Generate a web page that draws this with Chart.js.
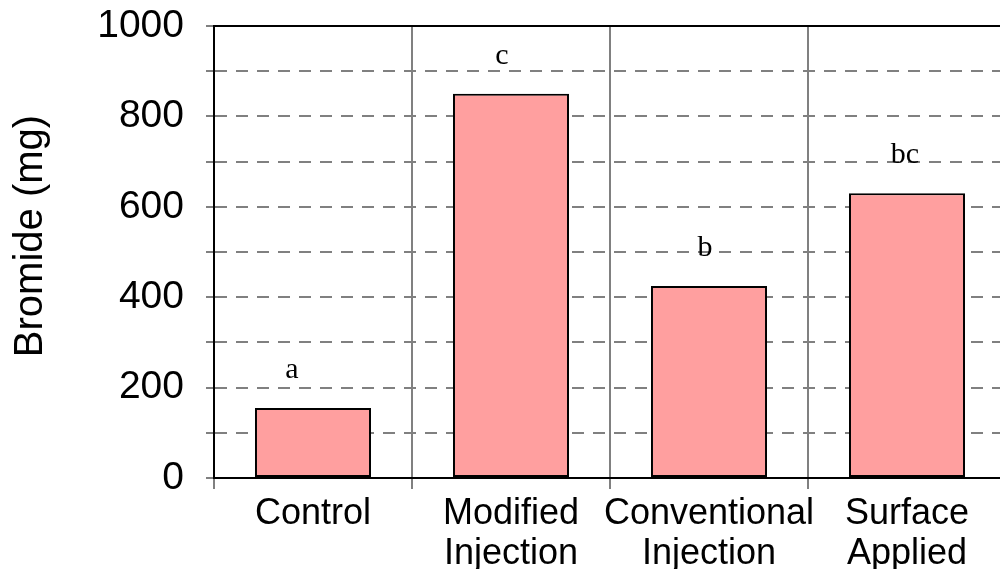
<!DOCTYPE html>
<html>
<head>
<meta charset="utf-8">
<script src="https://cdn.jsdelivr.net/npm/chart.js@4.4.1/dist/chart.umd.min.js"></script>
<style>
  html, body { margin: 0; padding: 0; background: #ffffff; overflow: hidden; }
  #wrap { width: 1000px; height: 569px; overflow: hidden; }
  canvas { display: block; }
</style>
</head>
<body>
<div id="wrap"><canvas id="chart" width="1008" height="569"></canvas></div>
<script>
// Treatment groups (multi-line axis labels)
const categories = [
  ['Control'],
  ['Modified', 'Injection'],
  ['Conventional', 'Injection'],
  ['Surface', 'Applied']
];

// Bromide recovered per treatment (mg)
const bromideValues = [155, 850, 425, 630];

// Significance letters shown above each bar
const sigLetters = ['a', 'c', 'b', 'bc'];

// Y axis range and labelled ticks
const yMin = 0;
const yMax = 1000;
const yStep = 100;
const yLabelStep = 200;

const yTitle = 'Bromide (mg)';

const GRID_GREY = '#808080';
const SANS = '"Liberation Sans", Arial, Helvetica, sans-serif';
const SERIF = '"Liberation Serif", "Times New Roman", serif';

// horizontal nudge of each significance letter relative to its bar centre (px)
const LETTER_NUDGE = [-21, -9, -4, -2];

// Letters above bars, top frame line and rotated y title
const annotations = {
  id: 'annotations',
  afterDatasetsDraw(chart) {
    const ctx = chart.ctx;
    const area = chart.chartArea;
    const meta = chart.getDatasetMeta(0);

    ctx.save();
    ctx.fillStyle = '#000000';
    ctx.font = '30px ' + SERIF;
    ctx.textAlign = 'center';
    ctx.textBaseline = 'alphabetic';
    meta.data.forEach((bar, i) => {
      ctx.fillText(sigLetters[i], bar.x + LETTER_NUDGE[i], bar.y - 30);
    });
    ctx.restore();

    // top frame line
    ctx.save();
    ctx.strokeStyle = '#000000';
    ctx.lineWidth = 2;
    ctx.beginPath();
    ctx.moveTo(area.left, area.top);
    ctx.lineTo(area.right, area.top);
    ctx.stroke();
    ctx.restore();

    // y axis title
    ctx.save();
    ctx.fillStyle = '#000000';
    ctx.font = '40px ' + SANS;
    ctx.textAlign = 'center';
    ctx.textBaseline = 'alphabetic';
    ctx.translate(42, (area.top + area.bottom) / 2 - 16);
    ctx.rotate(-Math.PI / 2);
    ctx.fillText(yTitle, 0, 0);
    ctx.restore();
  }
};

new Chart(document.getElementById('chart'), {
  type: 'bar',
  data: {
    labels: categories,
    datasets: [{
      data: bromideValues,
      backgroundColor: '#FF9F9F',
      borderColor: '#000000',
      borderWidth: 2,
      borderSkipped: false,
      barPercentage: 0.586,
      categoryPercentage: 1.0
    }]
  },
  options: {
    responsive: false,
    animation: false,
    devicePixelRatio: 1,
    layout: { padding: { top: 26, right: 2, left: 0, bottom: 0 } },
    plugins: {
      legend: { display: false },
      tooltip: { enabled: false },
      title: { display: false }
    },
    scales: {
      x: {
        offset: true,
        afterFit(scale) {
          scale.height = 91;
          scale.paddingLeft = 0;
          scale.paddingRight = 0;
        },
        grid: {
          offset: true,
          color: GRID_GREY,
          lineWidth: 2,
          drawTicks: true,
          tickLength: 11,
          z: -1
        },
        border: { display: true, color: '#000000', width: 2 },
        ticks: {
          color: '#000000',
          font: { family: SANS, size: 36, lineHeight: 1.12 },
          padding: 5,
          maxRotation: 0,
          autoSkip: false
        }
      },
      y: {
        min: yMin,
        max: yMax,
        afterFit(scale) {
          scale.width = 214;
          scale.paddingTop = 0;
          scale.paddingBottom = 0;
        },
        grid: {
          color: GRID_GREY,
          lineWidth: 2,
          drawTicks: true,
          tickLength: 8,
          z: -1
        },
        border: { display: true, color: '#000000', width: 2, dash: [12, 9] },
        ticks: {
          stepSize: yStep,
          autoSkip: false,
          color: '#000000',
          font: { family: SANS, size: 39 },
          padding: 22,
          callback: (v) => (v % yLabelStep === 0 ? String(v) : '')
        }
      }
    }
  },
  plugins: [annotations]
});
</script>
</body>
</html>
